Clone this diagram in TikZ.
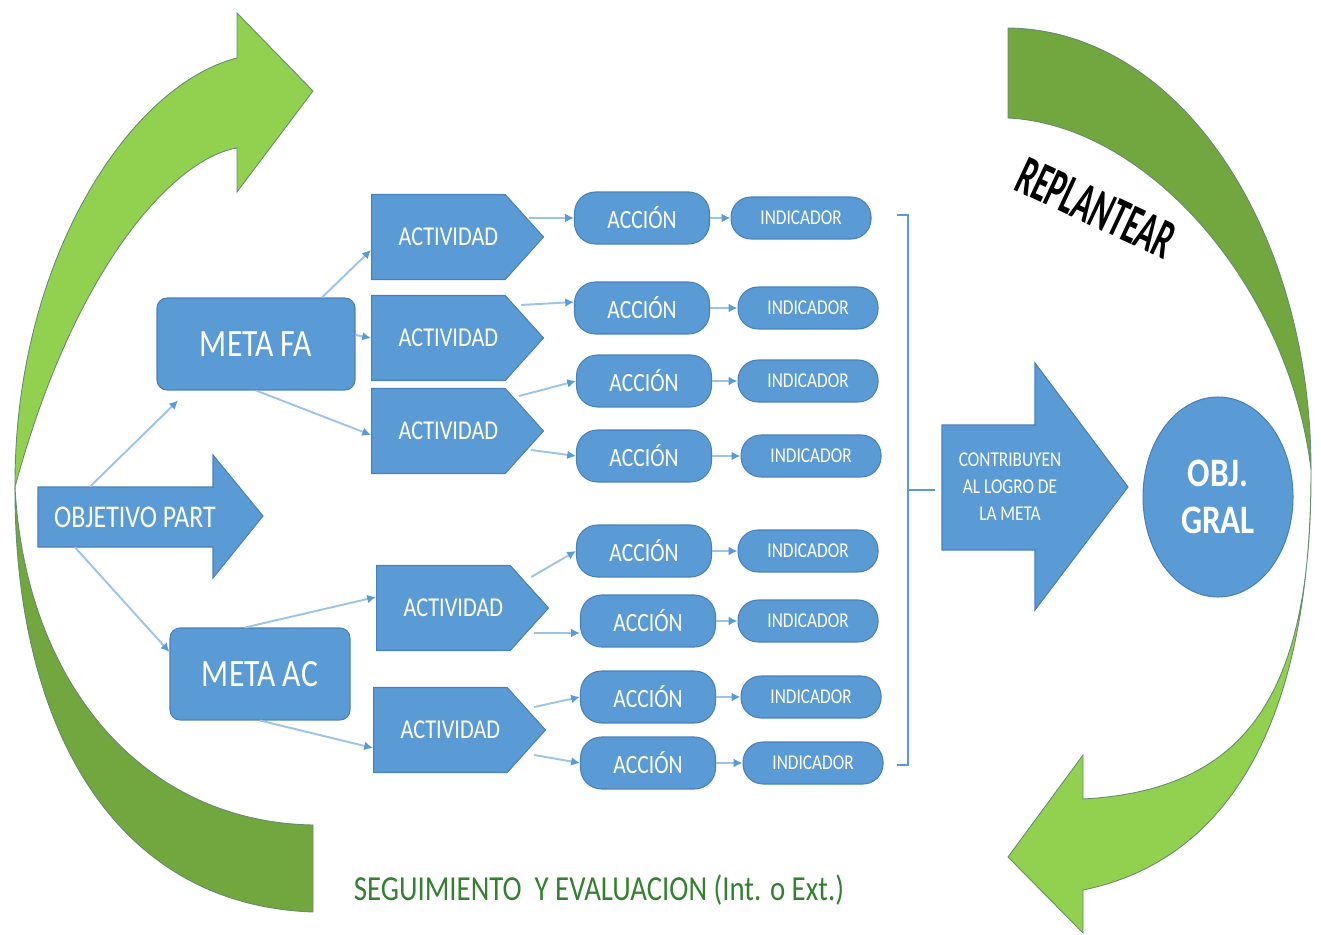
\documentclass[tikz,border=0pt]{standalone}
\usepackage{fontspec}
\setmainfont{Carlito}
\newfontfamily\cond[FakeStretch=0.82]{Carlito}
\newfontfamily\narrow[FakeStretch=0.55]{Carlito}
\usetikzlibrary{arrows.meta,positioning,shapes.geometric,shapes.symbols}
\definecolor{boxblue}{RGB}{91,155,213}
\definecolor{boxedge}{RGB}{72,128,186}
\definecolor{linkblue}{RGB}{157,195,230}
\definecolor{lightgreen}{RGB}{146,208,80}
\definecolor{darkgreen}{RGB}{114,166,62}
\definecolor{greenedge}{RGB}{100,140,110}
\definecolor{textgreen}{RGB}{52,128,48}
\begin{document}
\begin{tikzpicture}[x=0.02cm, y=-0.02cm,
    bluebox/.style={fill=boxblue, draw=boxedge, line width=0.6pt, text=white, inner sep=0pt},
    meta/.style={bluebox, rounded corners=0.2cm, minimum height=1.84cm, font=\cond\fontsize{22}{26}\selectfont},
    actividad/.style={bluebox, signal, signal to=east, signal pointer angle=96, minimum width=3.44cm, minimum height=1.7cm, font=\cond\fontsize{15.5}{18}\selectfont},
    accion/.style={bluebox, rounded corners=0.42cm, minimum width=2.7cm, minimum height=1.04cm, font=\cond\fontsize{15}{18}\selectfont},
    indicador/.style={bluebox, rounded corners=0.4cm, minimum width=2.8cm, minimum height=0.84cm, font=\cond\fontsize{12}{14}\selectfont},
    link/.style={draw=linkblue, line width=1.1pt, -{Latex[length=5pt,width=5pt,color=boxblue]}},
    greenarrow/.style={draw=greenedge, line width=0.5pt}]
    \useasboundingbox (0,0) rectangle (1321,935);

    % big curved arrows
    \path[greenarrow, fill=lightgreen] (15,487) .. controls (14,260) and (130,85) .. (237,58) -- (237,13) -- (313,91) -- (237,192) -- (237,148) .. controls (175,158) and (75,265) .. (15,487) -- cycle;
    \path[greenarrow, fill=darkgreen] (15,487) .. controls (14,720) and (110,905) .. (313,912) -- (313,825) .. controls (140,822) and (25,680) .. (15,487) -- cycle;
    \path[greenarrow, fill=darkgreen] (1008,28) .. controls (1180,30) and (1311,230) .. (1311,470) .. controls (1290,290) and (1150,125) .. (1008,118) -- cycle;
    \path[greenarrow, fill=lightgreen] (1311,470) .. controls (1311,720) and (1230,860) .. (1083,890) -- (1083,933) -- (1008,857) -- (1083,755) -- (1083,799) .. controls (1250,790) and (1312,690) .. (1311,470) -- cycle;

    % block arrows
    \path[bluebox] (38,487) -- (213,487) -- (213,455) -- (263,516) -- (213,578) -- (213,547) -- (38,547) -- cycle;
    \path[bluebox] (942,425) -- (1035,425) -- (1035,363) -- (1128,487) -- (1035,610) -- (1035,550) -- (942,550) -- cycle;
    \node[font=\cond\fontsize{18}{21}\selectfont, text=white, minimum height=1.2cm, inner sep=0pt] (objpart) at (135,517) {OBJETIVO PART};
    \node[font=\cond\fontsize{12}{15.4}\selectfont, text=white, align=center] (contrib) at (1010,487) {CONTRIBUYEN\\AL LOGRO DE\\LA META};

    \node[meta, minimum width=3.96cm] (metafa) at (256,344) {META FA};
    \node[meta, minimum width=3.6cm] (metaac) at (260,674) {META AC};

    \node[actividad, anchor=west] (act1) at (371,237) {\hspace*{0.4cm}ACTIVIDAD};
    \node[actividad, anchor=west] (act2) at (371,338) {\hspace*{0.4cm}ACTIVIDAD};
    \node[actividad, anchor=west] (act3) at (371,431) {\hspace*{0.4cm}ACTIVIDAD};
    \node[actividad, anchor=west] (act4) at (376,608) {\hspace*{0.4cm}ACTIVIDAD};
    \node[actividad, anchor=west] (act5) at (373,730) {\hspace*{0.4cm}ACTIVIDAD};

    \node[accion] (acc1) at (642,218) {ACCIÓN};
    \node[accion] (acc2) at (642,308) {ACCIÓN};
    \node[accion] (acc3) at (644,381) {ACCIÓN};
    \node[accion] (acc4) at (644,456) {ACCIÓN};
    \node[accion] (acc5) at (644,551) {ACCIÓN};
    \node[accion] (acc6) at (648,621) {ACCIÓN};
    \node[accion] (acc7) at (648,697) {ACCIÓN};
    \node[accion] (acc8) at (648,763) {ACCIÓN};

    \foreach \i/\gap in {1/0.41cm,2/0.55cm,3/0.51cm,4/0.57cm,5/0.51cm,6/0.43cm,7/0.49cm,8/0.53cm}{
        \node[indicador, right=\gap of acc\i] (ind\i) {INDICADOR};
        \draw[link] (acc\i) -- (ind\i);
    }

    \node[bluebox, ellipse, minimum width=3cm, minimum height=4cm, align=center, font=\cond\bfseries\fontsize{23}{26.8}\selectfont] (objgral) at (1218,497) {OBJ.\\GRAL};

    % links
    \draw[link] ([xshift=-0.9cm]objpart.north) -- ([xshift=-1.56cm,yshift=-0.2cm]metafa.south);
    \draw[link] ([xshift=-1.2cm]objpart.south) -- ([yshift=0.44cm]metaac.west);
    \draw[link] ([xshift=1.32cm]metafa.north) -- ([yshift=-0.26cm]act1.west);
    \draw[link] ([yshift=0.18cm]metafa.east) -- (act2.west);
    \draw[link] (metafa.south) -- ([yshift=-0.08cm]act3.west);
    \draw[link] ([xshift=-0.3cm]metaac.north) -- ([yshift=0.22cm]act4.west);
    \draw[link] (metaac.south) -- ([yshift=-0.36cm]act5.west);
    \draw[link] ([xshift=-0.3cm,yshift=0.38cm]act1.east) -- (acc1.west);
    \draw[link] ([xshift=-0.46cm,yshift=0.66cm]act2.east) -- ([yshift=0.12cm]acc2.west);
    \draw[link] ([xshift=-0.5cm,yshift=0.7cm]act3.east) -- (acc3.west);
    \draw[link] ([xshift=-0.26cm,yshift=-0.38cm]act3.east) -- (acc4.west);
    \draw[link] ([xshift=-0.36cm,yshift=0.62cm]act4.east) -- (acc5.west);
    \draw[link] ([xshift=-0.3cm,yshift=-0.5cm]act4.east) -- ([yshift=-0.24cm]acc6.west);
    \draw[link] ([xshift=-0.24cm,yshift=0.46cm]act5.east) -- (acc7.west);
    \draw[link] ([xshift=-0.24cm,yshift=-0.5cm]act5.east) -- (acc8.west);

    % bracket
    \draw[boxblue, line width=1.6pt] (897,215) -- (908,215) -- (908,765) -- (897,765);
    \draw[boxblue, line width=1.6pt] (908,490) -- (935,490);

    \node[font=\narrow\bfseries\fontsize{32}{36}\selectfont, rotate=-25] (replantear) at (1096,208) {REPLANTEAR};
    \node[font=\cond\fontsize{20}{24}\selectfont, text=textgreen] (seguimiento) at (599,890) {SEGUIMIENTO\ \ Y EVALUACION (Int. o Ext.)};
\end{tikzpicture}
\end{document}
